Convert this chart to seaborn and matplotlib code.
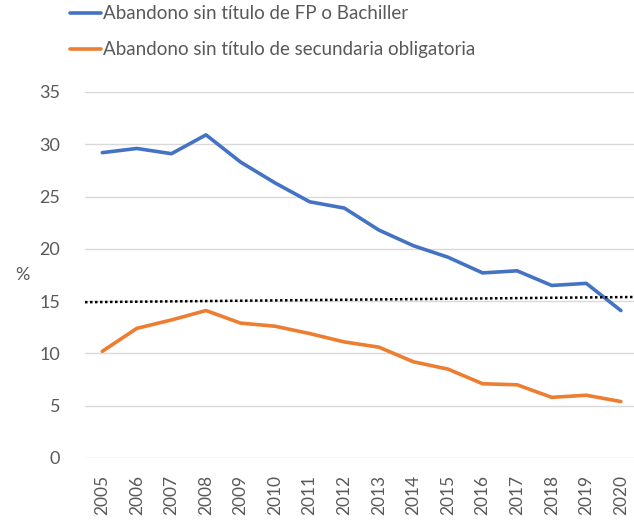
import pandas as pd
import matplotlib
matplotlib.use("Agg")
import matplotlib.pyplot as plt
import seaborn as sns

# data
years = list(range(2005, 2021))
fp_bach = [29.2, 29.6, 29.1, 30.9, 28.3, 26.3, 24.5, 23.9, 21.8, 20.3, 19.2, 17.7, 17.9, 16.5, 16.7, 14.1]
secundaria = [10.2, 12.4, 13.2, 14.1, 12.9, 12.6, 11.9, 11.1, 10.6, 9.2, 8.5, 7.1, 7.0, 5.8, 6.0, 5.4]
target_x = [2004.5, 2020.5]
target_y = [14.9, 15.4]

label_fp = "Abandono sin título de FP o Bachiller"
label_sec = "Abandono sin título de secundaria obligatoria"

df = pd.DataFrame({
    "year": years * 2,
    "value": fp_bach + secundaria,
    "serie": [label_fp] * len(years) + [label_sec] * len(years),
})

sns.set_style("white")
plt.rcParams["font.family"] = ["Lato", "DejaVu Sans"]
grey = "#595959"

fig = plt.figure(figsize=(6.34, 5.28), dpi=100)
ax = fig.add_axes([85 / 634, 1 - 458 / 528, 1 - 85 / 634, (458 - 92) / 528])

sns.lineplot(data=df, x="year", y="value", hue="serie",
             palette=["#4472C4", "#ED7D31"], linewidth=2.6, ax=ax, legend=True)
ax.plot(target_x, target_y, color="black", linestyle=(0, (1, 1)), linewidth=1.8)

ax.set_xlim(2004.5, 2020.38)
ax.set_ylim(0, 35)
ax.set_yticks(range(0, 36, 5))
ax.set_xticks(years)
ax.set_xticklabels([str(y) for y in years], rotation=90)
ax.tick_params(axis="y", labelsize=13, labelcolor=grey, length=0, pad=18)
ax.tick_params(axis="x", labelsize=12.5, labelcolor=grey, length=0, pad=12)
ax.yaxis.grid(True, color="#D9D9D9", linewidth=1)
ax.set_axisbelow(True)
for s in ax.spines.values():
    s.set_visible(False)
ax.set_xlabel("")
ax.set_ylabel("%", rotation=0, fontsize=13, color=grey, va="center", ha="center")
ax.yaxis.set_label_coords(-63 / 549, (458 - 275) / 366)

handles, labels = ax.get_legend_handles_labels()
leg = ax.legend(handles, labels, loc="upper left", bbox_to_anchor=(62 / 634, 1.004),
                bbox_transform=fig.transFigure, frameon=False, fontsize=13.5,
                handlelength=1.7, handletextpad=0.1, labelspacing=1.0,
                labelcolor=grey, borderaxespad=0.0)

fig.savefig("out.png", dpi=100)
